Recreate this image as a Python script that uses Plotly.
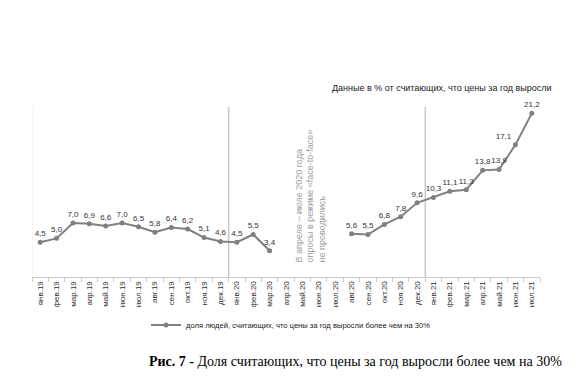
import plotly.graph_objects as go

months = ["янв.19", "фев.19", "мар.19", "апр.19", "май.19", "июн.19", "июл.19", "авг.19", "сен.19", "окт.19", "ноя.19", "дек.19",
          "янв.20", "фев.20", "мар.20", "апр.20", "май.20", "июн.20", "июл.20", "авг.20", "сен.20", "окт.20", "ноя.20", "дек.20",
          "янв.21", "фев.21", "мар.21", "апр.21", "май.21", "июн.21", "июл.21"]
values = [4.5, 5.0, 7.0, 6.9, 6.6, 7.0, 6.5, 5.8, 6.4, 6.2, 5.1, 4.6,
          4.5, 5.5, 3.4, None, None, None, None, 5.6, 5.5, 6.8, 7.8, 9.6,
          10.3, 11.1, 11.3, 13.8, 13.9, 17.1, 21.2]
series_name = "доля людей, считающих, что цены за год выросли более чем на 30%"
labels = [("" if v is None else f"{v:.1f}".replace(".", ",")) for v in values]
positions = ["top center"] * len(values)
positions[29] = "top left"

# page has an 8px body margin; work in figure coordinates = screen - 8
OFF = 8
W, H = 585 - OFF, 390 - OFF
L, R, T, B = 32 - OFF, 585 - 540, 107 - OFF, 390 - 277

PW, PH = W - L - R, H - T - B

def px(xs):
    return (xs - OFF - L) / PW

def py(ys):
    return (H - B - (ys - OFF)) / PH

fig = go.Figure()
fig.add_trace(go.Scatter(
    x=months, y=values, mode="lines+markers+text", name=series_name,
    text=labels, textposition=positions,
    textfont=dict(family="Arial", size=8, color="#333333"),
    line=dict(color="#808080", width=2),
    marker=dict(color="#808080", size=5),
    connectgaps=False, showlegend=True, cliponaxis=False,
))

for xb in [11.5, 23.5]:
    fig.add_shape(type="line", xref="x", yref="paper", x0=xb, x1=xb, y0=0, y1=1,
                  line=dict(color="#c8c8c8", width=1.5), layer="below")
fig.add_shape(type="line", xref="x", yref="paper", x0=-0.5, x1=-0.5, y0=0, y1=1,
              line=dict(color="#ececec", width=1), layer="below")

fig.add_annotation(x=16.5, y=10.5, xref="x", yref="y",
                   text="В апреле – июле 2020 года<br>опросы в режиме «face-to-face»<br>не проводились",
                   textangle=-90, align="left", showarrow=False,
                   font=dict(family="Arial", size=9, color="#a0a0a0"))

fig.add_annotation(xref="paper", yref="paper", x=px(554), xanchor="right",
                   y=py(88), yanchor="middle", showarrow=False,
                   text="Данные в % от считающих, что цены за год выросли",
                   font=dict(family="Arial", size=9, color="#202020"))

fig.add_annotation(xref="paper", yref="paper", x=px(355), y=py(361),
                   xanchor="center", yanchor="middle", showarrow=False,
                   text="<b>Рис. 7 -</b> Доля считающих, что цены за год выросли более чем на 30%",
                   font=dict(family="Liberation Serif", size=14, color="black"))

fig.update_layout(
    width=W, height=H,
    margin=dict(l=L, r=R, t=T, b=B, autoexpand=False),
    paper_bgcolor="white", plot_bgcolor="white",
    showlegend=True,
    legend=dict(orientation="h", x=px(291), xanchor="center", y=py(325), yanchor="middle",
                font=dict(family="Arial", size=7.6, color="#202020"), itemwidth=30),
    xaxis=dict(type="category", range=[-0.5, 30.5], autorange=False, automargin=False,
               tickangle=-90, tickson="boundaries", ticks="outside",
               ticklen=4, tickcolor="#cccccc", showline=True, linecolor="#c8c8c8",
               showgrid=False, tickfont=dict(family="Arial", size=8, color="#303030")),
    yaxis=dict(range=[0, 22], autorange=False, visible=False, showgrid=False, zeroline=False),
)

fig.write_html("out.html")
